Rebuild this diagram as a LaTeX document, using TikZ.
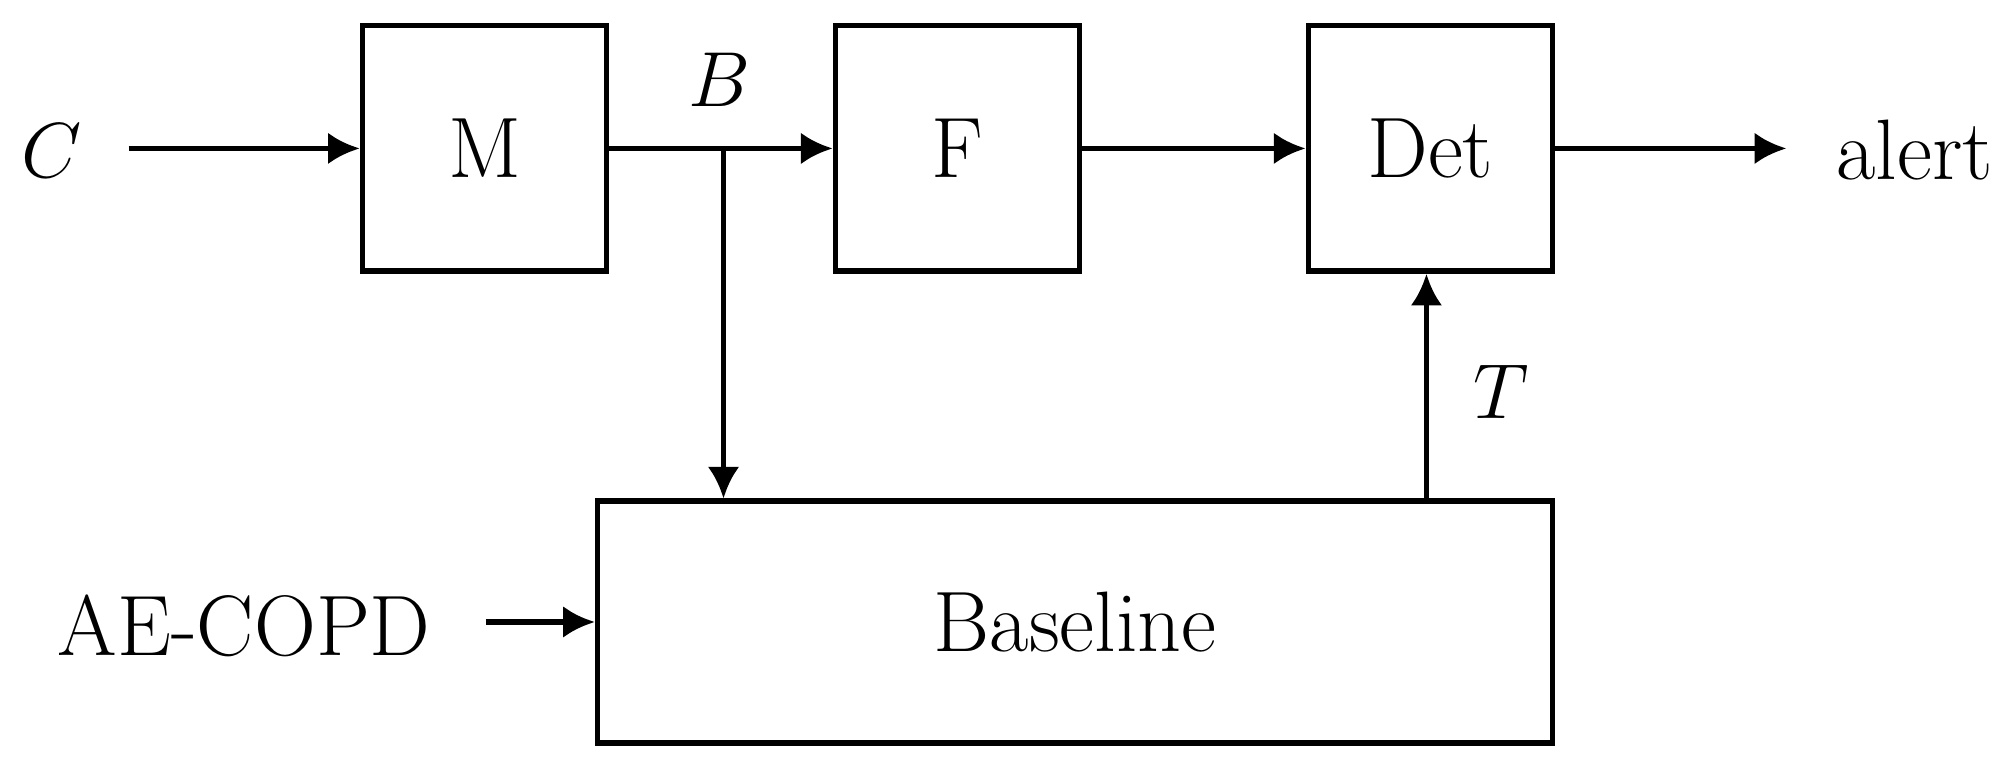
\documentclass[tikz,border=0pt]{standalone}
\usetikzlibrary{arrows.meta,positioning}
\tikzset{
  block/.style={rectangle, draw, line width=1.2pt, minimum width=1.9cm, minimum height=1.91cm, font=\fontsize{19}{22}\selectfont},
  lbl/.style={font=\fontsize{19}{22}\selectfont},
  arrow/.style={line width=1.2pt, -{Latex[length=7pt,width=7pt]}}
}
\begin{document}
\begin{tikzpicture}
\useasboundingbox (0,0) rectangle (15.68,-6.06);

\node (m) [block] at (3.77,-1.155) {M};
\node (f) [block] at (7.45,-1.155) {F};
\node (det) [block] at (11.13,-1.155) {Det};
\node (base) [block, minimum width=7.43cm, minimum height=1.88cm] at (8.365,-4.84) {Baseline};

\node (c) [lbl] at (0.40,-1.17) {$C$};
\node (alert) [lbl] at (14.90,-1.17) {alert};
\node (ae) [lbl] at (1.90,-4.87) {AE-COPD};
\node (b) [lbl] at (5.60,-0.62) {$B$};
\node (t) [lbl] at (11.68,-3.05) {$T$};

\coordinate (cin) at (1.00,-1.155);
\coordinate (aout) at (13.90,-1.155);
\coordinate (aein) at (3.78,-4.84);
\coordinate (split) at (5.63,-1.155);

%arrows
\draw [arrow] (cin) -- (m);
\draw [arrow] (m) -- (f);
\draw [arrow] (f) -- (det);
\draw [arrow] (det) -- (aout);
\draw [arrow] (aein) -- (base);
\draw [arrow] (split) -- (split |- base.north);
\draw [arrow] (base.north -| 11.10,0) -- (11.10,0 |- det.south);
\end{tikzpicture}
\end{document}
